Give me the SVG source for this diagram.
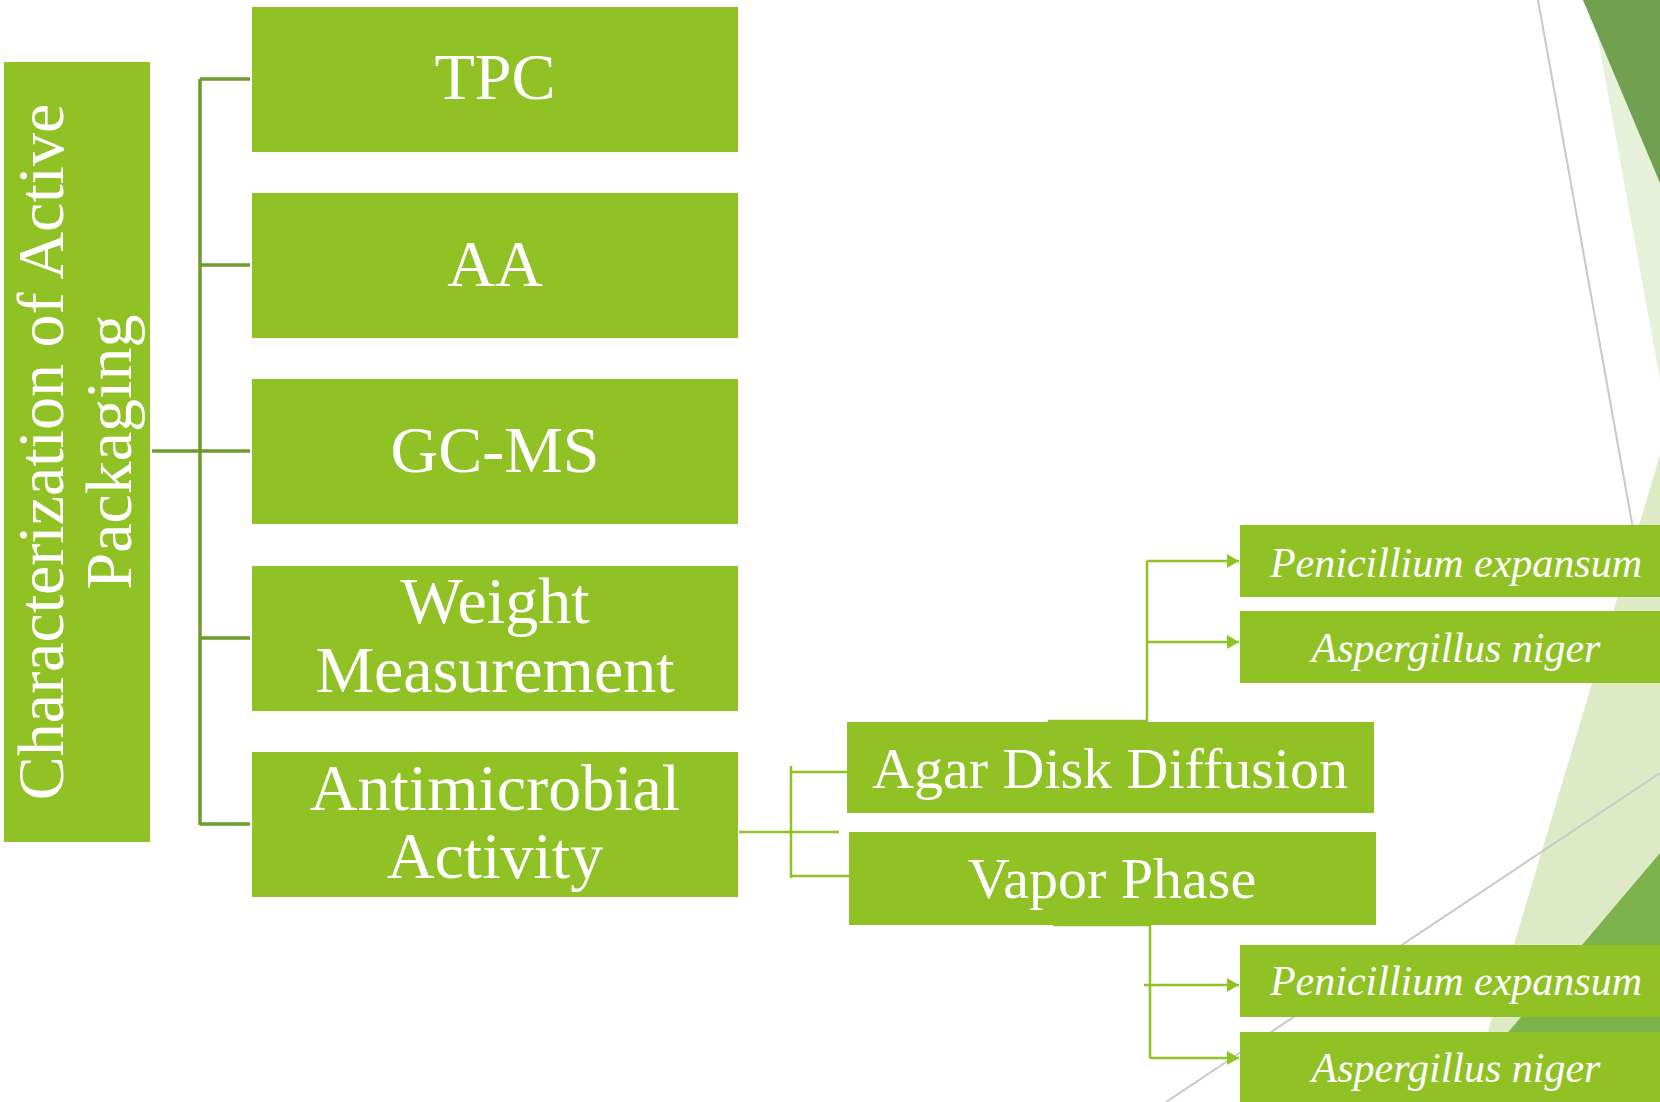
<svg xmlns="http://www.w3.org/2000/svg" width="1660" height="1102" viewBox="0 0 1660 1102">
  <style>
    .box { fill: #90c226; }
    .lbl { fill: #ffffff; font-family: "Liberation Serif", "Times New Roman", serif; text-anchor: middle; }
    .big { font-size: 66px; }
    .mid { font-size: 58px; }
    .sp { font-size: 42px; font-style: italic; }
    .trunk { fill: none; stroke: #6e9b2c; stroke-width: 3.5; }
    .link { fill: none; stroke: #90c226; stroke-width: 2.5; }
    .arrow { fill: none; stroke: #90c226; stroke-width: 2.5; marker-end: url(#tip); }
    .deco-line { fill: none; stroke: #c9c9c9; stroke-width: 2; }
  </style>
  <defs>
    <marker id="tip" markerUnits="userSpaceOnUse" markerWidth="14" markerHeight="16" refX="12" refY="8" orient="auto">
      <path d="M0,1 L12,8 L0,15 Z" fill="#90c226"/>
    </marker>
  </defs>

  <rect width="1660" height="1102" fill="#ffffff"/>

  <!-- corner facets -->
  <g id="backdrop">
    <polygon points="1591,0 1660,0 1660,380" fill="#e7f0d9"/>
    <polygon points="1583,0 1660,0 1660,183" fill="#70a050"/>
    <line class="deco-line" x1="1538" y1="0" x2="1662" y2="690"/>
    <polygon points="1660,455 1660,1102 1467,1102" fill="#ddeac5"/>
    <polygon points="1660,853 1660,1102 1449,1102" fill="#7cb24c"/>
    <line class="deco-line" x1="1166" y1="1102" x2="1660" y2="773"/>
  </g>

  <!-- connectors -->
  <g id="connectors">
    <path class="trunk" d="M152,451 H200 M200,79 V825 M200,79 H250 M200,265 H250 M200,451 H250 M200,638 H250 M200,824 H250"/>
    <path class="link" d="M739,832 H839 M791,766 V878 M791,772 H847 M791,876 H849"/>
    <path class="link" d="M1048,721 H1147 V561"/>
    <path class="arrow" d="M1147,561 H1239"/>
    <path class="arrow" d="M1147,642 H1239"/>
    <path class="link" d="M1053,925 H1150 V1058"/>
    <path class="arrow" d="M1144,985 H1239"/>
    <path class="arrow" d="M1150,1058 H1239"/>
  </g>

  <!-- root -->
  <g id="root">
    <rect class="box" x="4" y="62" width="146" height="780"/>
    <g transform="translate(77,452) rotate(-90)">
      <text class="lbl big" x="0" y="-14">Characterization of Active</text>
      <text class="lbl big" x="0" y="54">Packaging</text>
    </g>
  </g>

  <g id="tpc">
    <rect class="box" x="252" y="7" width="486" height="145"/>
    <text class="lbl big" x="495" y="99">TPC</text>
  </g>
  <g id="aa">
    <rect class="box" x="252" y="193" width="486" height="145"/>
    <text class="lbl big" x="495" y="286">AA</text>
  </g>
  <g id="gcms">
    <rect class="box" x="252" y="379" width="486" height="145"/>
    <text class="lbl big" x="495" y="472">GC-MS</text>
  </g>
  <g id="weight">
    <rect class="box" x="252" y="566" width="486" height="145"/>
    <text class="lbl big" x="495" y="623">Weight</text>
    <text class="lbl big" x="495" y="692">Measurement</text>
  </g>
  <g id="antimicrobial">
    <rect class="box" x="252" y="752" width="486" height="145"/>
    <text class="lbl big" x="495" y="810">Antimicrobial</text>
    <text class="lbl big" x="495" y="878">Activity</text>
  </g>

  <g id="agar">
    <rect class="box" x="847" y="722" width="527" height="91"/>
    <text class="lbl mid" x="1110" y="788">Agar Disk Diffusion</text>
  </g>
  <g id="vapor">
    <rect class="box" x="849" y="832" width="527" height="93"/>
    <text class="lbl mid" x="1112" y="898">Vapor Phase</text>
  </g>

  <g id="agar-penicillium">
    <rect class="box" x="1240" y="525" width="440" height="72"/>
    <text class="lbl sp" x="1456" y="577">Penicillium expansum</text>
  </g>
  <g id="agar-aspergillus">
    <rect class="box" x="1240" y="611" width="440" height="72"/>
    <text class="lbl sp" x="1456" y="662">Aspergillus niger</text>
  </g>
  <g id="vapor-penicillium">
    <rect class="box" x="1240" y="945" width="440" height="72"/>
    <text class="lbl sp" x="1456" y="995">Penicillium expansum</text>
  </g>
  <g id="vapor-aspergillus">
    <rect class="box" x="1240" y="1032" width="440" height="72"/>
    <text class="lbl sp" x="1456" y="1082">Aspergillus niger</text>
  </g>
</svg>
